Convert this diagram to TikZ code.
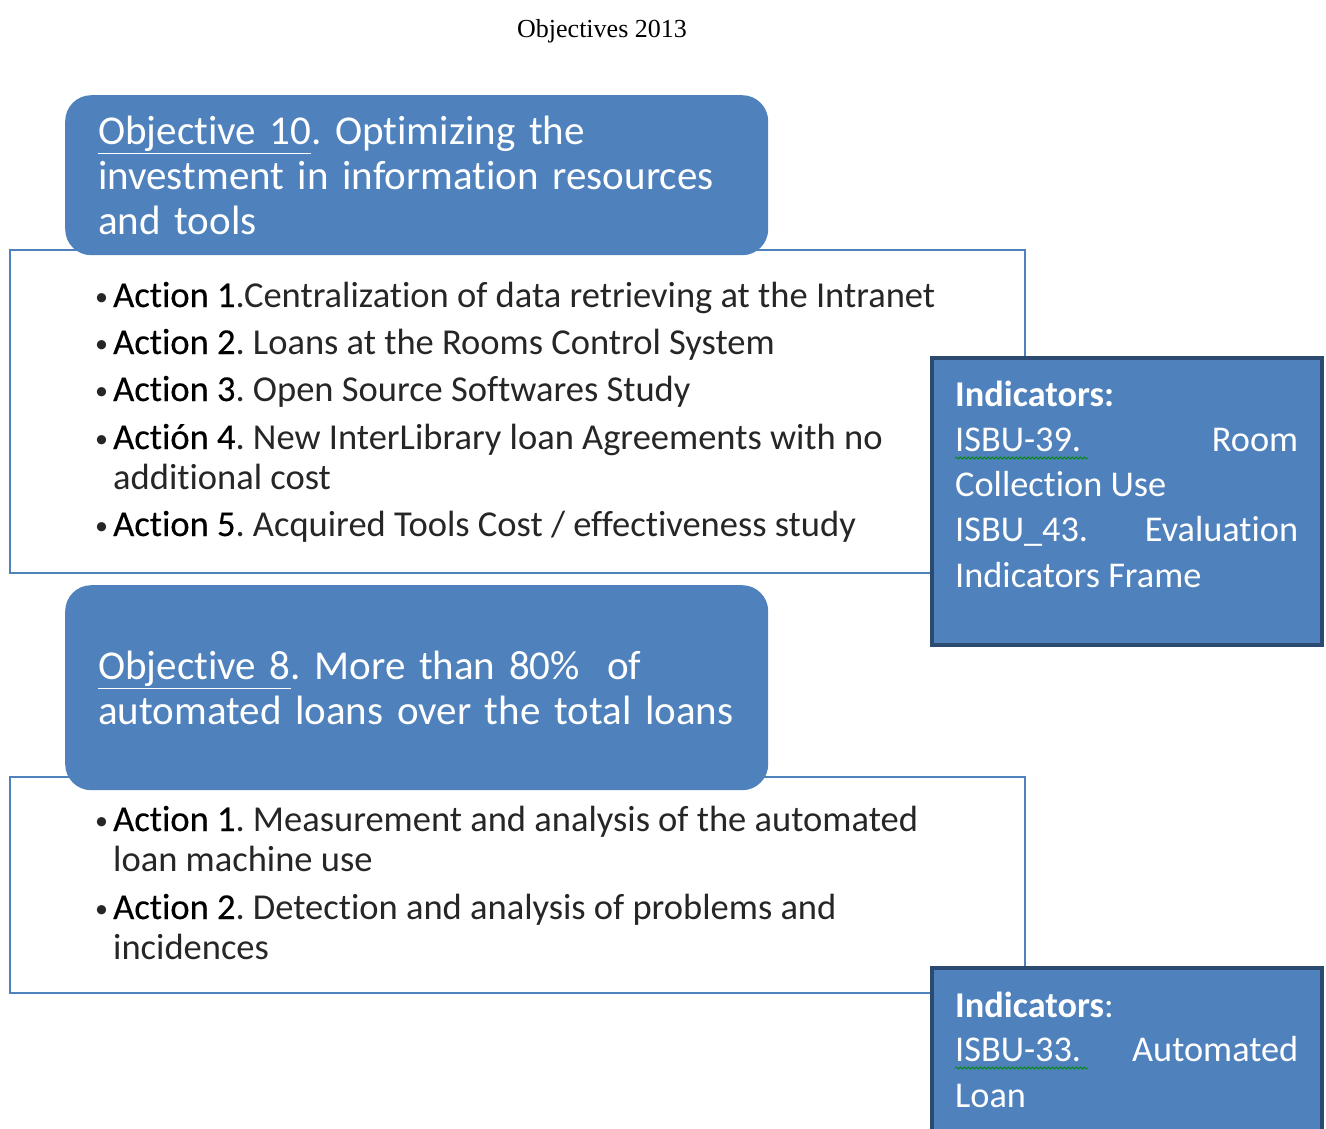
\documentclass[tikz,border=0pt]{standalone}
\usepackage{fontspec}
\setmainfont{Carlito}[Ligatures=NoCommon]
\newfontfamily\titlefont{Liberation Serif}
\usetikzlibrary{decorations.pathmorphing}
\definecolor{objblue}{RGB}{79,129,189}
\definecolor{inddark}{RGB}{44,74,112}
\frenchspacing
\newcommand\shadtxt[1]{{\addfontfeature{FakeBold=0.35}\color{black}#1}}
\newcommand\bul{\makebox[18pt][l]{\fontsize{26}{26}\selectfont\raisebox{2pt}{•}}}
\begin{document}
\begin{tikzpicture}[x=1pt,y=-1pt,
  outline/.style={draw=objblue, line width=2.8pt},
  objbox/.style={fill=objblue, rounded corners=26pt, anchor=north west, inner xsep=33pt, inner ysep=0pt,
     text=white, text width=#1, align=left, font=\fontsize{41}{45}\selectfont\frenchspacing},
  indbox/.style={fill=objblue, draw=inddark, line width=3.5pt},
  act/.style={anchor=base west, inner sep=0pt, font=\fontsize{36.5}{40}\selectfont\frenchspacing, text=black!85},
  ind/.style={anchor=base west, inner sep=0pt, font=\fontsize{36.3}{45}\selectfont\frenchspacing, text=white},
  squig/.style={draw=green!55!black, line width=0.8pt, decorate, decoration={snake, segment length=4pt, amplitude=1pt}}]
\useasboundingbox (0,0) rectangle (1326,1128);
\clip (0,0) rectangle (1326,1128);
\fill[white] (0,0) rectangle (1326,1128);

\node[anchor=base, inner sep=0pt, font=\titlefont\fontsize{26}{30}\selectfont] (title) at (602,37) {Objectives 2013};

% outline frames
\draw[outline] (10,250) rectangle (1025,573);
\draw[outline] (10,777) rectangle (1025,993);

% objective boxes
\node[objbox=637pt, minimum height=160pt] (obj10) at (65,95)
  {\underline{Objective 10}. Optimizing the\\ investment in information resources\\ and tools};
\node[objbox=637pt, minimum height=205pt] (obj8) at (65,585)
  {\underline{Objective 8}. More than 80\%\ \ of\\ automated loans over the total loans};

% indicator boxes
\draw[indbox] (932,358) rectangle (1322,645);
\draw[indbox] (932,968) rectangle (1322,1140);

% actions objective 10
\node[act] (a1) at (95,307) {\bul\shadtxt{Action 1}.Centralization of data retrieving at the Intranet};
\node[act] (a2) at (95,354) {\bul\shadtxt{Action 2}. Loans at the Rooms Control System};
\node[act] (a3) at (95,401) {\bul\shadtxt{Action 3}. Open Source Softwares Study};
\node[act] (a4) at (95,449) {\bul\shadtxt{Actión 4}. New InterLibrary loan Agreements with no};
\node[act] (a4b) at (113,489) {additional cost};
\node[act] (a5) at (95,536) {\bul\shadtxt{Action 5}. Acquired Tools Cost / effectiveness study};

% actions objective 8
\node[act] (b1) at (95,831) {\bul\shadtxt{Action 1}. Measurement and analysis of the automated};
\node[act] (b1b) at (113,871) {loan machine use};
\node[act] (b2) at (95,919) {\bul\shadtxt{Action 2}. Detection and analysis of problems and};
\node[act] (b2b) at (113,959) {incidences};

% indicators 1
\node[ind] (i1) at (955,406) {\textbf{Indicators:}};
\node[ind] (i2) at (955,451) {\makebox[343pt][l]{ISBU-39.\hfill Room}};
\node[ind] (i3) at (955,496) {Collection Use};
\node[ind] (i4) at (955,541) {\makebox[343pt][l]{ISBU\_43.\hfill Evaluation}};
\node[ind] (i5) at (955,587) {Indicators Frame};
\draw[squig] (955,458) -- (1088,458);

% indicators 2
\node[ind] (j1) at (955,1017) {\textbf{Indicators}:};
\node[ind] (j2) at (955,1061) {\makebox[343pt][l]{ISBU-33.\hfill Automated}};
\node[ind] (j3) at (955,1107) {Loan};
\draw[squig] (955,1068) -- (1088,1068);
\end{tikzpicture}
\end{document}
